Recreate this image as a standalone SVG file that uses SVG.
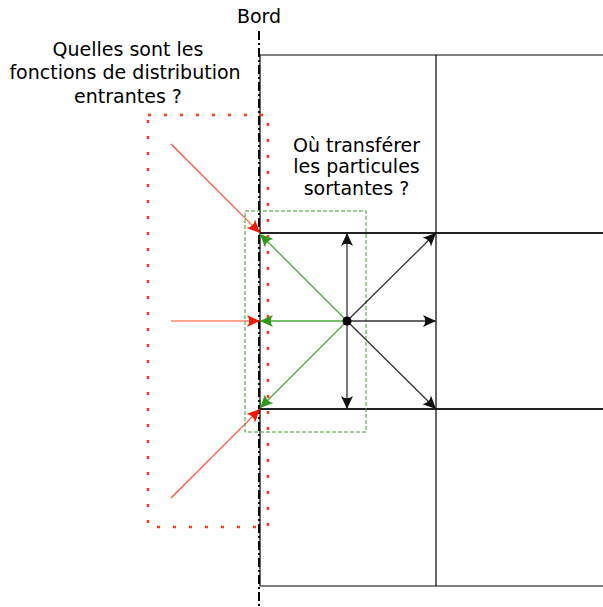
<svg xmlns="http://www.w3.org/2000/svg" width="603" height="607" viewBox="0 0 603 607">
<style>
text{font-family:"DejaVu Sans",sans-serif;font-size:19px;fill:#000;text-anchor:middle}
.grid{stroke:#000;stroke-width:1.2;fill:none}
.gridb{stroke:#222;stroke-width:2;fill:none}
.blk{stroke:#333;stroke-width:1.3;fill:none;marker-end:url(#mb)}
.grn{stroke:#4aa83a;stroke-width:1.3;fill:none;marker-end:url(#mg)}
.red{stroke:#ff4a2a;stroke-width:1.2;fill:none;marker-end:url(#mr)}
</style>
<defs>
<marker id="mb" markerUnits="userSpaceOnUse" markerWidth="16" markerHeight="16" viewBox="-14 -7 16 14" refX="0" refY="0" orient="auto"><path d="M0,0 L-13,-6 Q-8.5,0 -13,6 Z" fill="#111"/></marker>
<marker id="mg" markerUnits="userSpaceOnUse" markerWidth="16" markerHeight="16" viewBox="-14 -7 16 14" refX="0" refY="0" orient="auto"><path d="M0,0 L-13,-6 Q-8.5,0 -13,6 Z" fill="#2f9a1a"/></marker>
<marker id="mr" markerUnits="userSpaceOnUse" markerWidth="16" markerHeight="16" viewBox="-14 -7 16 14" refX="0" refY="0" orient="auto"><path d="M0,0 L-13,-6 Q-8.5,0 -13,6 Z" fill="#f01a00"/></marker>
</defs>
<g id="grid">
<line class="grid" x1="260" y1="55" x2="603" y2="55"/>
<line class="grid" x1="260" y1="586" x2="603" y2="586"/>
<line class="gridb" x1="260" y1="233" x2="603" y2="233"/>
<line class="gridb" x1="260" y1="409" x2="603" y2="409"/>
<line class="grid" x1="260" y1="55" x2="260" y2="586"/>
<line class="grid" x1="436" y1="55" x2="436" y2="586"/>
</g>
<g id="bord">
<line x1="259" y1="31" x2="259" y2="607" stroke="#000" stroke-width="2" stroke-dasharray="9,3,2,3"/>
<text x="259" y="23">Bord</text>
</g>
<g id="zone-entrante">
<rect x="148" y="115" width="120" height="412" fill="none" stroke="#ff3a10" stroke-width="2.5" stroke-dasharray="3,13"/>
<text x="128" y="56">Quelles sont les</text>
<text x="125" y="79">fonctions de distribution</text>
<text x="128" y="103">entrantes ?</text>
</g>
<g id="zone-sortante">
<rect x="245" y="211" width="121" height="221" fill="none" stroke="#3a9a2a" stroke-width="1" stroke-dasharray="4,2"/>
<text x="356.5" y="152">Où transférer</text>
<text x="356.5" y="173">les particules</text>
<text x="356.5" y="195">sortantes ?</text>
</g>
<g id="connectors">
<line class="red" x1="171" y1="144" x2="260" y2="233"/>
<line class="red" x1="171" y1="321" x2="260" y2="321"/>
<line class="red" x1="171" y1="498" x2="260" y2="409"/>
<line class="grn" x1="347" y1="321" x2="260" y2="234"/>
<line class="grn" x1="347" y1="321" x2="260" y2="321"/>
<line class="grn" x1="347" y1="321" x2="260" y2="408"/>
<line class="blk" x1="347" y1="321" x2="347" y2="233"/>
<line class="blk" x1="347" y1="321" x2="347" y2="409"/>
<line class="blk" x1="347" y1="321" x2="436" y2="321"/>
<line class="blk" x1="347" y1="321" x2="436" y2="233"/>
<line class="blk" x1="347" y1="321" x2="436" y2="409"/>
</g>
<g id="centre">
<circle cx="347" cy="321" r="4.5" fill="#000"/>
</g>
</svg>
